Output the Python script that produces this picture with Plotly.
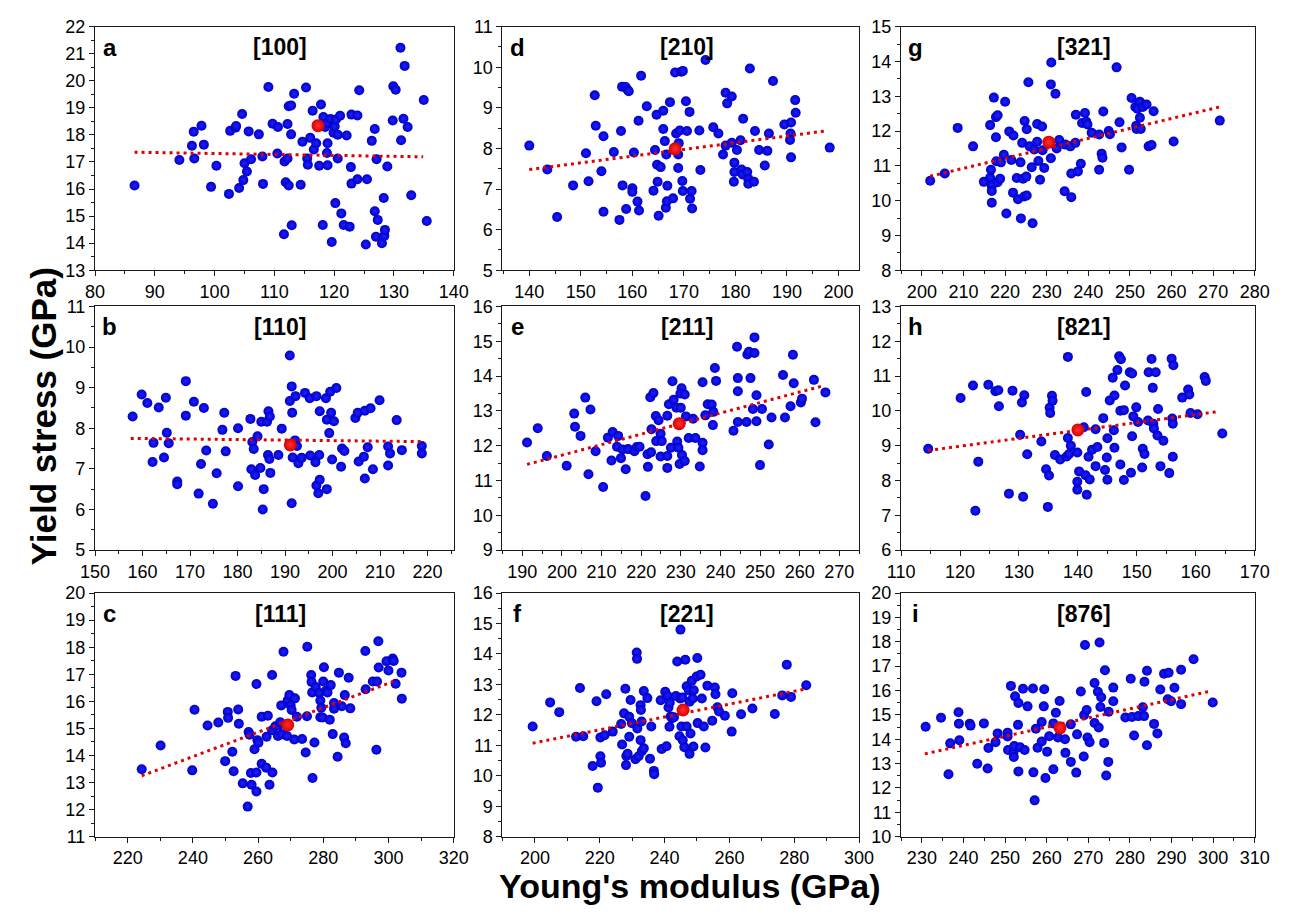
import plotly.graph_objects as go

# ---------------- data ----------------
# panel a  [100]
a_pts = [(86.6,16.13),(94.1,17.07),(96.2,17.6),(96.5,18.12),(96.6,17.13),(97.8,18.34),(98.2,17.64),(99.4,16.08),(100.3,16.86),(102.4,15.82),(102.6,18.15),(103.5,18.27),(103.6,18.33),(104.6,18.77),(104.1,16.04),(104.8,16.33),(105.0,16.95),(105.4,16.65),(105.7,18.13),(106.1,17.1),(107.4,18.02),(108.0,17.2),(108.1,16.19),(109.0,19.77),(109.7,18.41),(110.6,18.29),(110.5,17.31),(111.7,17.02),(112.2,17.13),(111.9,16.25),(112.4,16.13),(111.6,14.33),(112.2,18.4),(112.4,19.06),(112.8,19.09),(112.8,18.02),(112.9,14.66),(113.3,19.52),(114.4,16.16),(114.7,17.75),(115.3,19.75),(115.5,17.13),(115.6,16.9),(116.0,17.89),(116.4,18.89),(116.6,17.46),(117.0,17.69),(117.8,19.12),(117.5,16.86),(118.1,14.67),(118.2,18.66),(118.5,18.29),(118.8,18.45),(118.9,17.69),(118.8,17.33),(118.9,16.88),(119.4,18.59),(119.6,14.04),(119.9,18.08),(120.1,18.31),(120.3,18.57),(120.2,15.48),(120.6,18.01),(120.6,17.13),(121.0,18.71),(121.2,15.1),(121.6,14.67),(122.1,17.98),(122.6,14.61),(122.8,16.81),(122.9,18.75),(122.9,16.2),(123.9,16.36),(123.9,18.72),(124.2,19.65),(125.3,13.95),(125.5,16.36),(126.3,17.78),(126.8,18.22),(126.8,15.18),(127.1,17.1),(127.3,14.86),(127.0,14.24),(128.0,14.0),(128.3,15.67),(128.4,14.27),(128.5,14.49),(128.9,16.83),(129.8,18.53),(129.9,19.8),(130.3,19.67),(131.1,21.22),(131.2,17.8),(131.6,18.6),(131.8,20.55),(132.3,18.29),(132.9,15.77),(135.0,19.29),(135.5,14.82)]
a_avg = (117.3, 18.34)
a_fit = ([86.6, 134.9], [17.36, 17.19])

# panel d  [210]
d_pts = [(140.0,8.07),(143.5,7.48),(145.4,6.31),(148.5,7.09),(151.0,7.88),(151.5,7.19),(152.7,9.31),(152.9,8.56),(154.0,7.44),(154.4,8.3),(154.4,6.44),(156.4,7.91),(157.5,6.24),(157.8,8.43),(158.0,9.52),(158.1,7.09),(158.7,9.51),(159.1,9.44),(159.3,9.41),(158.8,6.51),(160.0,7.02),(160.0,6.93),(160.3,7.9),(161.0,6.69),(161.2,8.68),(161.3,6.47),(161.7,9.79),(162.8,9.04),(164.1,6.96),(164.4,7.96),(164.7,8.83),(164.8,7.6),(164.9,7.18),(165.1,6.34),(165.5,7.54),(166.0,8.93),(166.0,8.48),(166.3,8.18),(166.5,6.54),(166.6,7.85),(166.7,6.7),(166.8,7.08),(167.3,9.14),(167.9,6.77),(168.3,9.87),(168.5,8.37),(168.9,7.52),(168.9,7.85),(169.0,8.13),(169.2,8.44),(169.5,9.89),(169.8,9.91),(169.7,7.2),(169.8,6.95),(170.4,9.16),(170.6,8.43),(171.1,8.9),(171.2,6.76),(171.5,6.95),(171.6,6.52),(173.0,8.44),(173.2,7.47),(174.2,10.18),(175.7,8.52),(176.7,8.37),(177.6,7.85),(178.1,9.37),(178.4,9.11),(178.1,8.07),(179.3,9.28),(179.3,8.14),(179.8,7.65),(179.8,7.42),(179.7,7.18),(180.3,7.96),(181.0,8.2),(181.5,8.73),(181.2,7.48),(181.4,7.36),(182.3,7.42),(182.5,7.25),(182.5,7.13),(182.8,9.97),(183.6,7.18),(183.8,8.43),(184.6,7.96),(185.7,7.58),(186.2,7.94),(186.5,8.37),(187.3,9.66),(189.5,8.59),(190.8,8.64),(190.7,8.37),(190.6,8.21),(190.8,7.78),(191.6,9.19),(191.7,8.88),(198.3,8.02)]
d_avg = (168.3, 7.99)
d_fit = ([140.0, 197.5], [7.48, 8.43])

# panel g  [321]
g_pts = [(202.0,10.57),(205.5,10.78),(208.6,12.09),(212.3,11.56),(214.9,10.54),(216.4,12.17),(216.6,10.89),(216.4,10.66),(216.8,10.43),(216.8,10.28),(216.8,9.94),(217.3,12.96),(217.8,12.4),(218.2,12.45),(217.8,11.82),(217.9,11.13),(218.2,10.53),(218.8,10.63),(219.0,11.1),(219.7,11.32),(220.0,12.84),(220.3,9.63),(221.0,11.99),(221.5,11.17),(221.9,10.23),(222.0,11.87),(222.8,10.65),(223.1,10.04),(223.7,11.1),(223.8,9.49),(224.1,11.66),(224.3,10.63),(224.7,12.29),(225.1,10.69),(225.2,12.05),(224.6,10.12),(225.2,10.15),(225.6,13.4),(225.9,11.56),(226.4,10.96),(226.6,9.35),(227.0,11.47),(227.7,12.2),(227.7,11.69),(228.0,11.14),(228.4,10.6),(228.9,12.13),(229.0,11.45),(229.4,10.94),(231.0,13.34),(231.1,13.97),(232.1,13.07),(231.0,11.22),(232.4,11.5),(233.0,11.74),(234.3,10.27),(234.5,11.61),(235.9,10.1),(235.9,10.78),(235.7,11.56),(236.9,11.66),(237.0,12.47),(237.5,10.84),(238.2,11.06),(238.5,12.23),(239.2,12.52),(239.5,12.27),(239.8,12.19),(240.8,11.95),(242.6,10.89),(242.6,11.9),(243.2,11.35),(243.4,11.23),(243.6,12.56),(244.9,12.0),(245.2,11.91),(246.8,13.83),(247.5,12.25),(248.0,11.53),(249.8,10.89),(250.4,12.95),(251.3,12.69),(251.8,12.64),(251.5,12.15),(251.6,12.06),(252.4,12.84),(252.4,12.38),(252.6,12.06),(253.1,12.69),(254.0,12.76),(254.5,11.56),(255.2,11.6),(255.7,12.57),(260.5,11.7),(271.6,12.3)]
g_avg = (230.5, 11.68)
g_fit = ([202.0, 271.5], [10.70, 12.69])

# panel b  [110]
b_pts = [(157.9,8.29),(159.8,8.83),(161.0,8.62),(162.1,7.17),(162.3,7.64),(163.4,8.51),(164.5,7.28),(164.9,8.75),(165.1,7.89),(165.5,7.63),(167.3,6.69),(167.3,6.62),(169.1,8.31),(169.1,9.16),(170.8,8.65),(171.8,6.39),(172.3,7.12),(172.9,8.5),(173.4,7.45),(174.8,6.14),(175.6,6.89),(176.8,7.96),(177.2,8.38),(177.5,7.43),(180.1,8.0),(180.1,6.57),(182.7,8.23),(183.1,7.66),(183.4,7.49),(182.9,6.99),(183.7,6.85),(184.2,7.8),(184.8,7.02),(185.0,8.16),(185.3,6.0),(185.5,6.5),(186.2,8.16),(186.5,8.42),(186.4,7.34),(186.8,8.29),(186.7,7.24),(186.9,6.9),(188.6,7.34),(189.3,7.99),(191.0,8.67),(191.4,9.03),(191.0,9.79),(191.5,8.38),(191.6,7.28),(191.4,6.15),(192.2,8.79),(192.1,7.7),(192.5,7.56),(192.8,7.14),(193.5,7.27),(194.2,8.87),(195.2,8.74),(195.3,7.33),(196.6,8.79),(196.4,7.16),(196.6,6.59),(197.2,7.34),(197.3,8.42),(197.3,6.73),(197.0,6.4),(198.6,8.74),(198.8,6.5),(198.8,8.21),(199.3,7.88),(199.7,8.38),(199.5,8.9),(199.9,7.23),(200.3,8.17),(200.8,8.99),(201.8,7.05),(202.0,7.5),(202.5,7.44),(204.8,8.25),(205.3,8.38),(205.5,7.18),(206.6,7.3),(206.8,8.43),(206.8,6.76),(207.4,7.53),(208.0,8.49),(208.5,6.99),(209.9,8.69),(211.7,7.55),(211.7,7.08),(212.1,7.38),(213.5,8.2),(214.6,7.46),(218.8,7.56),(218.8,7.38)]
b_avg = (191.1, 7.59)
b_fit = ([157.5, 219.2], [7.75, 7.67])

# panel e  [211]
e_pts = [(191.2,12.09),(193.9,12.5),(196.2,11.7),(201.2,11.42),(203.1,12.92),(203.3,12.54),(204.7,12.28),(205.9,13.38),(206.7,11.18),(207.2,13.04),(208.5,11.84),(210.4,10.81),(211.6,12.23),(212.5,11.57),(212.8,12.39),(213.9,11.97),(214.2,12.28),(214.9,11.64),(215.3,11.89),(216.1,11.32),(216.7,11.9),(218.3,11.84),(218.9,11.96),(219.6,11.97),(221.1,10.55),(221.6,11.75),(221.7,11.39),(222.5,11.81),(222.3,13.39),(222.6,12.47),(223.1,13.51),(223.7,12.85),(223.8,12.13),(224.4,12.73),(224.9,12.34),(224.9,11.69),(225.2,12.13),(226.6,12.86),(226.6,11.7),(226.6,11.36),(227.0,13.19),(227.5,11.94),(227.9,13.85),(228.2,13.32),(228.9,13.09),(229.1,12.12),(229.4,11.94),(229.7,11.47),(230.2,13.65),(229.9,13.5),(230.0,13.09),(230.3,11.73),(231.0,11.56),(231.0,13.47),(231.3,12.84),(232.0,12.22),(233.1,12.77),(233.7,12.22),(234.8,11.4),(235.5,13.82),(235.5,12.08),(235.5,11.87),(236.2,12.87),(236.8,13.19),(238.1,12.59),(237.8,13.18),(238.2,12.97),(238.6,14.23),(238.9,13.86),(243.3,12.43),(244.2,14.84),(244.4,13.94),(244.4,13.56),(244.4,12.68),(246.6,12.68),(246.8,14.62),(247.2,14.7),(247.6,13.94),(248.2,13.05),(248.6,15.11),(248.6,14.66),(249.1,13.45),(249.1,12.7),(250.0,11.44),(250.5,13.05),(252.2,12.03),(252.9,12.81),(255.8,14.03),(256.3,12.81),(257.7,13.13),(258.3,14.61),(258.5,13.79),(260.3,13.24),(260.6,13.35),(263.6,13.89),(264.0,12.67),(266.5,13.53)]
e_avg = (229.6, 12.63)
e_fit = ([191.2, 266.3], [11.46, 13.73])

# panel h  [821]
h_pts = [(114.6,8.91),(120.1,10.37),(122.2,10.73),(122.6,7.13),(123.1,8.54),(124.8,10.75),(126.0,10.56),(126.5,10.59),(126.6,10.13),(128.3,7.62),(128.9,10.58),(130.2,9.31),(130.5,10.24),(130.7,7.53),(130.9,10.45),(131.4,8.75),(133.8,9.12),(134.6,8.32),(135.1,8.14),(134.9,7.24),(135.2,10.09),(135.3,9.94),(135.6,10.43),(135.7,10.29),(136.1,8.73),(137.0,8.6),(138.1,8.69),(138.3,9.22),(138.5,8.76),(138.3,11.55),(138.8,9.0),(139.9,8.8),(139.9,7.96),(139.9,7.73),(140.2,8.26),(141.0,9.53),(141.3,8.15),(141.4,10.54),(141.5,7.59),(141.8,8.68),(142.0,8.03),(142.4,8.88),(143.0,9.47),(143.0,8.41),(143.3,8.96),(144.3,9.79),(144.6,8.3),(144.9,8.66),(145.0,9.21),(145.0,8.02),(145.4,10.3),(145.9,10.95),(146.2,10.44),(146.1,9.44),(146.2,8.94),(146.7,11.17),(147.0,11.57),(147.3,11.48),(147.2,8.46),(147.2,10.0),(147.8,10.02),(148.0,10.73),(147.8,8.01),(148.8,11.11),(149.2,11.07),(149.2,9.27),(149.0,8.22),(149.4,9.84),(149.9,10.1),(150.2,9.68),(151.0,8.91),(151.3,8.76),(150.9,8.37),(151.9,9.72),(152.0,11.11),(152.5,11.49),(152.7,10.66),(152.8,9.63),(152.9,9.49),(153.2,11.11),(153.5,9.29),(153.6,10.05),(154.0,8.41),(154.5,9.14),(155.5,8.21),(155.9,11.5),(156.2,11.31),(156.0,9.78),(156.1,9.63),(156.1,8.68),(157.7,10.38),(158.7,10.61),(158.9,10.47),(159.1,9.94),(160.3,9.9),(161.5,10.97),(161.7,10.86),(164.5,9.35)]
h_avg = (140.0, 9.45)
h_fit = ([114.6, 163.9], [8.86, 9.98])

# panel c  [111]
c_pts = [(224.3,13.49),(230.1,14.37),(239.8,13.45),(240.5,15.69),(244.5,15.11),(247.8,15.22),(249.9,13.79),(250.7,15.61),(250.8,15.39),(252.1,14.14),(252.5,13.42),(253.1,16.94),(253.9,15.7),(254.1,15.17),(255.3,12.97),(256.8,12.11),(257.1,14.87),(257.4,14.77),(257.8,13.35),(258.0,12.92),(258.9,14.23),(259.5,13.37),(259.5,12.67),(259.5,16.64),(259.8,14.56),(260.1,14.47),(261.1,15.43),(261.1,13.69),(262.5,13.55),(262.6,14.69),(263.0,15.47),(263.5,12.92),(264.3,16.97),(264.4,13.37),(264.3,14.93),(265.3,15.08),(266.1,14.72),(266.3,15.1),(266.8,15.23),(267.1,15.85),(267.8,17.83),(267.3,14.78),(268.9,14.72),(269.1,16.04),(269.6,16.23),(270.0,15.85),(270.3,15.68),(271.1,14.59),(271.3,16.11),(271.9,15.43),(273.5,14.61),(274.6,14.11),(275.0,15.45),(275.1,18.02),(276.3,16.97),(276.4,16.72),(276.6,16.33),(276.7,13.17),(277.3,14.48),(277.7,16.53),(278.8,16.31),(279.1,16.03),(279.1,15.41),(279.4,15.76),(279.8,15.4),(280.0,16.73),(280.2,17.26),(280.8,16.39),(281.3,16.33),(282.0,15.32),(282.3,16.6),(282.9,14.79),(283.3,15.94),(283.3,15.73),(284.4,13.95),(284.8,17.06),(285.7,15.82),(286.4,14.66),(286.6,16.23),(286.9,14.45),(287.8,16.87),(288.3,15.74),(292.9,17.86),(293.0,16.45),(295.2,16.73),(296.5,16.73),(296.3,14.21),(296.9,18.22),(297.0,17.25),(299.4,17.48),(300.0,17.14),(301.3,17.58),(301.6,17.49),(302.2,16.65),(304.0,17.06),(304.1,16.1)]
c_avg = (269.1, 15.13)
c_fit = ([224.3, 302.3], [13.25, 16.77])

# panel f  [221]
f_pts = [(199.3,11.62),(204.7,12.41),(207.5,12.09),(212.7,11.28),(213.9,12.88),(214.9,11.3),(217.8,10.32),(219.0,12.45),(219.4,9.61),(220.2,10.64),(220.4,10.43),(220.2,11.26),(221.5,11.33),(222.0,12.68),(224.0,11.45),(226.9,11.03),(226.6,11.7),(227.5,12.05),(227.9,12.86),(228.1,10.35),(228.2,10.65),(228.6,10.72),(229.1,11.94),(229.1,11.28),(229.5,12.49),(229.9,11.73),(231.0,10.54),(231.4,14.05),(231.5,13.84),(231.6,11.55),(232.0,10.64),(232.6,12.32),(232.7,12.16),(232.6,11.17),(232.9,11.78),(233.0,10.81),(233.6,10.9),(233.6,12.78),(234.7,12.55),(235.5,10.56),(235.9,11.62),(236.7,10.16),(236.8,10.05),(238.8,12.48),(239.1,10.88),(240.6,10.97),(240.2,12.76),(240.9,12.63),(241.2,12.24),(241.5,11.61),(241.6,12.4),(241.9,11.95),(242.3,11.89),(242.9,11.92),(243.5,12.62),(243.9,13.75),(244.6,11.3),(244.8,12.54),(244.9,14.8),(245.2,11.62),(245.6,11.17),(246.1,10.94),(245.5,12.57),(246.4,13.81),(246.8,11.62),(246.8,12.94),(247.5,12.8),(247.7,12.43),(247.7,10.72),(248.0,11.39),(248.4,13.12),(248.7,12.54),(248.9,10.96),(249.0,12.81),(249.9,13.26),(250.1,13.87),(250.2,11.73),(251.1,13.32),(251.5,12.54),(252.1,11.62),(252.6,10.93),(253.2,12.96),(254.7,11.81),(255.5,12.9),(255.7,12.68),(256.3,12.25),(256.8,12.11),(258.6,11.97),(260.7,11.45),(260.9,12.71),(263.6,12.02),(267.1,12.21),(274.0,12.03),(276.3,12.64),(277.7,13.65),(279.0,12.59),(283.7,12.97)]
f_avg = (245.7, 12.16)
f_fit = ([199.3, 283.0], [11.07, 12.84])

# panel i  [876]
i_pts = [(230.9,14.51),(234.6,14.88),(236.4,12.56),(236.8,13.83),(238.8,15.11),(238.9,14.64),(239.0,13.96),(241.5,14.64),(241.7,14.56),(243.3,12.99),(244.9,14.65),(245.8,12.8),(246.0,13.64),(247.7,13.88),(248.2,14.24),(250.6,14.27),(250.6,14.11),(250.7,13.56),(251.4,16.19),(252.0,13.45),(252.1,13.27),(252.2,13.72),(252.4,15.76),(253.2,15.49),(253.1,14.59),(253.2,12.68),(253.6,13.67),(254.3,16.07),(254.7,13.56),(255.4,15.35),(256.7,16.08),(256.8,12.64),(257.1,11.49),(257.4,14.43),(257.8,13.65),(258.8,13.91),(258.8,14.71),(259.3,15.35),(259.4,16.05),(259.7,12.41),(260.1,13.49),(260.6,14.12),(261.6,12.77),(261.6,14.65),(262.2,15.09),(262.7,14.07),(263.1,15.57),(264.4,14.0),(264.5,13.44),(265.8,13.07),(265.8,14.61),(267.1,12.63),(267.3,14.2),(268.2,15.96),(268.9,13.29),(269.0,14.99),(269.6,15.2),(269.2,17.87),(269.8,14.07),(270.3,13.88),(271.5,14.67),(271.5,16.31),(272.3,15.95),(272.5,14.48),(272.7,17.97),(272.9,15.32),(273.1,15.72),(273.8,13.85),(274.0,16.83),(274.3,12.51),(274.8,13.07),(274.9,15.13),(276.0,16.12),(276.0,15.56),(278.9,14.89),(280.2,16.48),(280.5,14.91),(281.0,14.15),(282.0,14.95),(283.1,15.31),(283.5,16.36),(283.4,14.95),(284.1,16.81),(284.1,13.75),(285.8,14.63),(286.6,14.24),(287.3,16.04),(288.2,16.69),(289.3,16.73),(289.1,15.64),(289.9,15.56),(290.7,16.11),(292.3,15.44),(292.3,16.85),(295.3,17.28),(299.9,15.51)]
i_avg = (263.2, 14.47)
i_fit = ([230.7, 299.0], [13.40, 15.96])

panel_letters = ["a", "d", "g", "b", "e", "h", "c", "f", "i"]
panel_titles = ["[100]", "[210]", "[321]", "[110]", "[211]", "[821]", "[111]", "[221]", "[876]"]
panel_points = [a_pts, d_pts, g_pts, b_pts, e_pts, h_pts, c_pts, f_pts, i_pts]
panel_avgs = [a_avg, d_avg, g_avg, b_avg, e_avg, h_avg, c_avg, f_avg, i_avg]
panel_fits = [a_fit, d_fit, g_fit, b_fit, e_fit, h_fit, c_fit, f_fit, i_fit]
x_ranges = [(80, 140), (134.8, 204), (195, 280), (150, 225.5), (185, 275), (110, 170), (210, 320), (190, 300), (225, 310)]
y_ranges = [(13, 22), (5, 11), (8, 15), (5, 11), (9, 16), (6, 13), (11, 20), (8, 16), (10, 20)]
x_dticks = [10, 10, 10, 10, 10, 10, 20, 20, 10]
x_tick0 = [80, 140, 200, 150, 190, 110, 200, 200, 230]
x_title = "Young's modulus (GPa)"
y_title = "Yield stress (GPa)"

# ---------------- layout (pixel geometry) ----------------
W, H = 1301, 922
col_px = [(82, 449), (499, 864), (907, 1269)]
row_px = [(17, 266), (303, 552), (596, 845)]
FONT = "Liberation Sans, Arial, sans-serif"
AX = "#1a1a1a"

fig = go.Figure()
annotations = []
layout_axes = {}

for k in range(9):
    n = k + 1
    r, c = divmod(k, 3)
    xs = "" if n == 1 else str(n)
    pts = panel_points[k]
    xv = [p[0] for p in pts]
    yv = [p[1] for p in pts]

    fig.add_trace(go.Scatter(
        x=xv, y=yv, mode="markers", xaxis="x" + xs, yaxis="y" + xs,
        marker=dict(size=10, color="#0000c8",
                    gradient=dict(type="radial", color="#2020ff"),
                    line=dict(width=0)),
        hoverinfo="x+y", showlegend=False))
    fx, fy = panel_fits[k]
    fig.add_trace(go.Scatter(
        x=fx, y=fy, mode="lines", xaxis="x" + xs, yaxis="y" + xs,
        line=dict(color="#e00000", width=3, dash="3px,4px"),
        hoverinfo="skip", showlegend=False))
    ax_, ay_ = panel_avgs[k]
    fig.add_trace(go.Scatter(
        x=[ax_], y=[ay_], mode="markers", xaxis="x" + xs, yaxis="y" + xs,
        marker=dict(size=13, color="#d80000",
                    gradient=dict(type="radial", color="#ff3030"),
                    line=dict(width=0)),
        showlegend=False))

    x0, x1 = col_px[c]
    y0, y1 = row_px[r]
    common = dict(showline=True, linecolor=AX, linewidth=1.3, mirror=True,
                  ticks="outside", ticklen=5, tickwidth=1.2, tickcolor=AX,
                  showgrid=False, zeroline=False,
                  tickfont=dict(family=FONT, size=18, color="black"))
    layout_axes["xaxis" + xs] = dict(
        common, domain=[x0 / W, x1 / W], anchor="y" + xs,
        range=list(x_ranges[k]), tick0=x_tick0[k], dtick=x_dticks[k],
        minor=dict(ticks="outside", ticklen=3, tickwidth=1, tickcolor=AX,
                   dtick=x_dticks[k] / 2, showgrid=False))
    layout_axes["yaxis" + xs] = dict(
        common, domain=[1 - y1 / H, 1 - y0 / H], anchor="x" + xs,
        range=list(y_ranges[k]), tick0=0, dtick=1,
        minor=dict(ticks="outside", ticklen=3, tickwidth=1, tickcolor=AX,
                   dtick=0.5, showgrid=False))

    annotations.append(dict(
        text="<b>%s</b>" % panel_letters[k], xref="paper", yref="paper",
        x=(x0 + 15) / W, y=1 - (y0 + 21) / H, xanchor="center", yanchor="middle",
        showarrow=False, font=dict(family=FONT, size=24, color="black")))
    annotations.append(dict(
        text="<b>%s</b>" % panel_titles[k], xref="paper", yref="paper",
        x=((x0 + x1) / 2 + 6) / W, y=1 - (y0 + 21) / H, xanchor="center", yanchor="middle",
        showarrow=False, font=dict(family=FONT, size=23, color="black")))

annotations.append(dict(
    text="<b>%s</b>" % x_title, xref="paper", yref="paper",
    x=690 / W, y=1 - 895 / H, xanchor="center", yanchor="middle",
    showarrow=False, font=dict(family=FONT, size=34, color="black")))
annotations.append(dict(
    text="<b>%s</b>" % y_title, xref="paper", yref="paper",
    x=30 / W, y=1 - 415 / H, xanchor="center", yanchor="middle", textangle=-90,
    showarrow=False, font=dict(family=FONT, size=35, color="black")))

fig.update_layout(
    width=W, height=H, margin=dict(l=0, r=0, t=0, b=0),
    paper_bgcolor="white", plot_bgcolor="white", showlegend=False,
    annotations=annotations, **layout_axes)

fig.write_html("out.html")
